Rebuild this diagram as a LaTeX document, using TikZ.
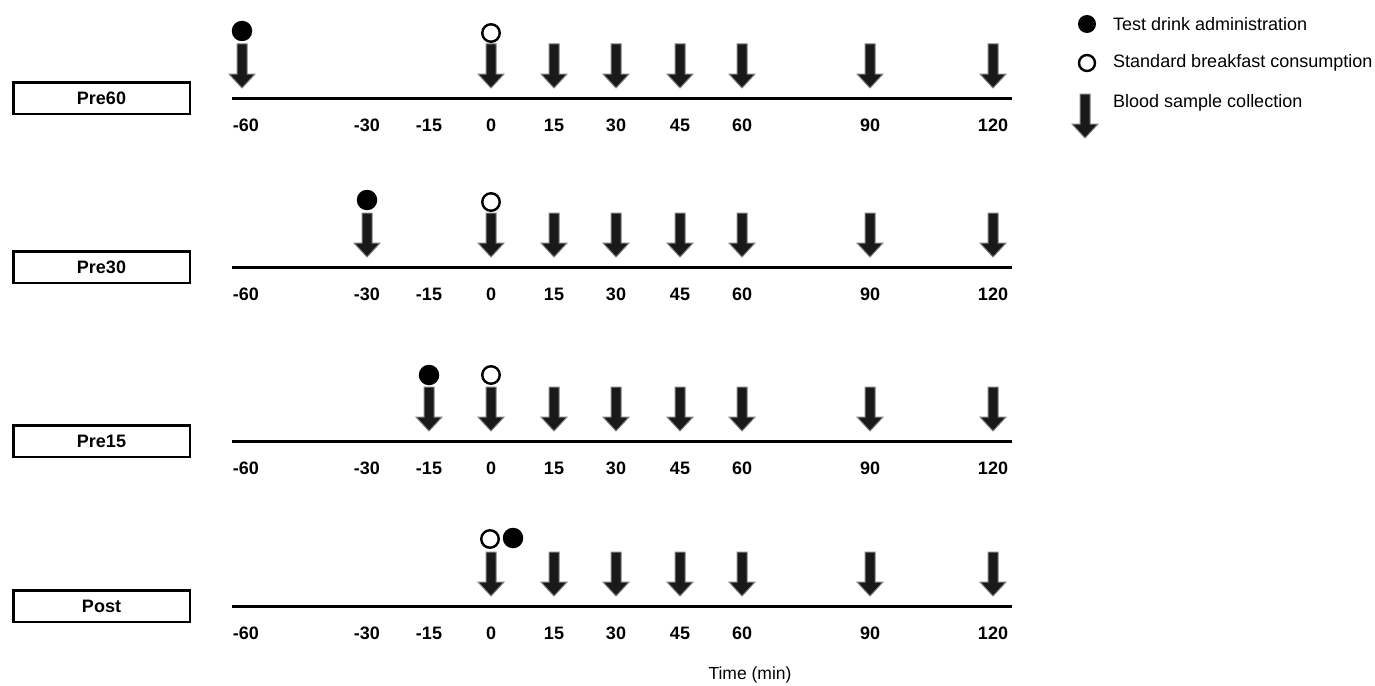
\documentclass[tikz,border=0pt]{standalone}
\usepackage{fontspec}
\setmainfont{Liberation Sans}
\usetikzlibrary{positioning}

\begin{document}
\begin{tikzpicture}[x=1pt,y=-1pt,
          every node/.style={font=\fontsize{18}{21}\selectfont},
          tick/.style={font=\fontsize{18}{21}\selectfont\bfseries,inner sep=0pt},
          groupbox/.style={draw,line width=2.5pt,minimum width=176.5pt,minimum height=31.5pt,
                           inner sep=0pt,font=\fontsize{18}{21}\selectfont\bfseries},
          drink/.style={circle,fill=black,minimum size=20.5pt,inner sep=0pt},
          meal/.style={circle,draw,line width=2.4pt,fill=white,minimum size=17.5pt,inner sep=0pt},
          sample/.pic={\filldraw[fill=black!90,draw=black!50,line width=1pt,line join=miter]
                         (-5,-44) -- (5,-44) -- (5,-14) -- (13,-14) -- (0,0)
                         -- (-13,-14) -- (-5,-14) -- cycle;},
      ]
        \useasboundingbox (0,0) rectangle (1375,685);

        % one timeline per protocol
        \foreach \row/\y in {Pre60/98,Pre30/267,Pre15/441,Post/606}{
          \node[groupbox] (\row) at (101.5,\y) {\row};
          \coordinate (\row-start) at (232,\y);
          \coordinate (\row-end) at (1012,\y);
          \draw[line width=3pt] (\row-start) -- (\row-end);
          \foreach \x/\t in {246/-60,367/-30,429/-15,491/0,554/15,616/30,680/45,742/60,870/90,993/120}
            \node[tick] (\row-\t) at (\x,\y+27) {\t};
          \foreach \x in {491,554,616,680,742,870,993}
            \pic at (\x,\y-10) {sample};
        }

        % test drink and breakfast
        \pic at (242,88) {sample};
        \node[drink] (Pre60-drink) at (242,31) {};
        \node[meal] (Pre60-meal) at (491,33) {};

        \pic at (367,257) {sample};
        \node[drink] (Pre30-drink) at (367,200) {};
        \node[meal] (Pre30-meal) at (491,202) {};

        \pic at (429,431) {sample};
        \node[drink] (Pre15-drink) at (429,375) {};
        \node[meal] (Pre15-meal) at (491,375) {};

        \node[meal] (Post-meal) at (490,539) {};
        \node[drink] (Post-drink) at (513,538) {};

        % legend
        \node[drink,minimum size=18pt] (key-drink) at (1087,24) {};
        \node[meal,minimum size=16pt] (key-meal) at (1087,63) {};
        \pic at (1085,138) {sample};
        \node[anchor=west,inner sep=0pt] (key-drink-text) at (1113,24) {Test drink administration};
        \node[anchor=west,inner sep=0pt] (key-meal-text) at (1113,63) {Standard breakfast consumption};
        \node[anchor=west,inner sep=0pt] (key-sample-text) at (1113,103) {Blood sample collection};

        \node[font=\fontsize{17.5}{20}\selectfont] (time) at (750,675) {Time (min)};
      \end{tikzpicture}
\end{document}
